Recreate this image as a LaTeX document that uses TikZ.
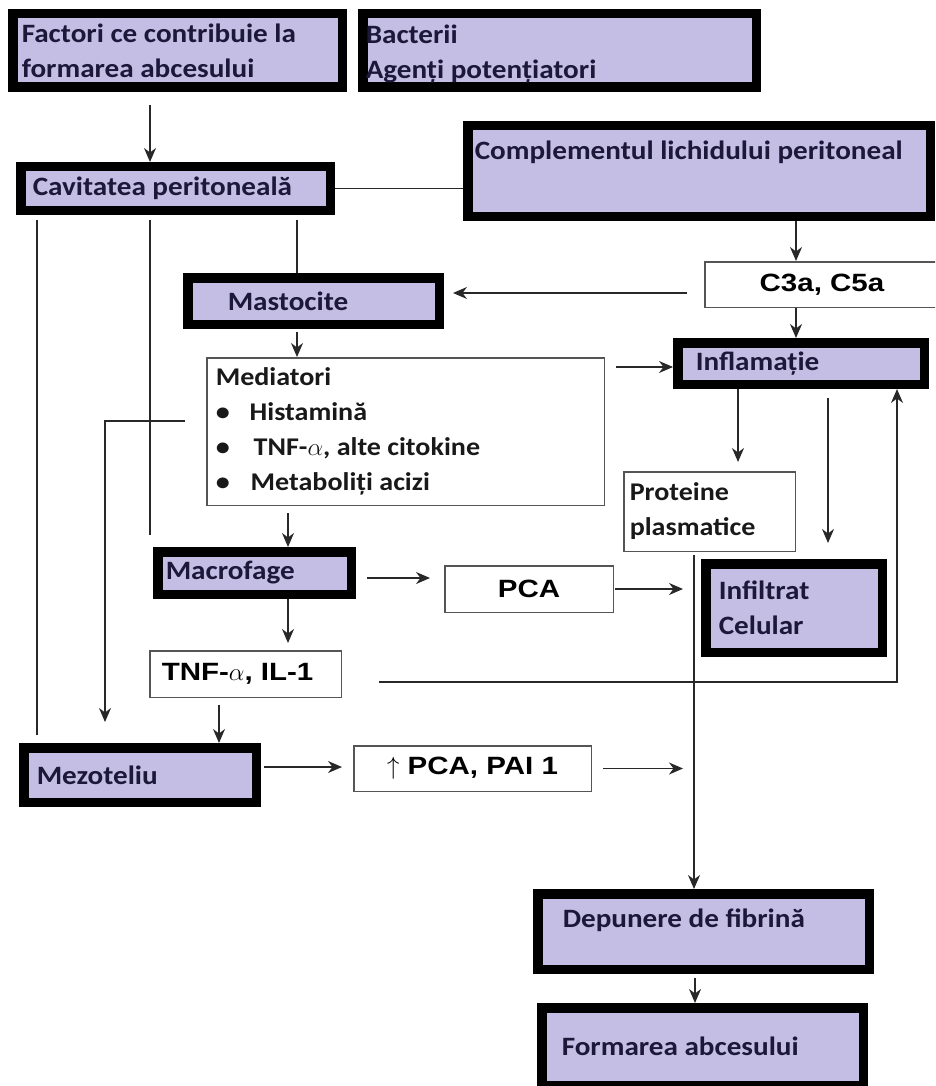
\documentclass[tikz,border=0pt]{standalone}
\usepackage{fontspec}
\setmainfont[FakeStretch=1.1]{Carlito}
\newfontfamily\arialfont[FakeStretch=1.18]{Liberation Sans}
\usepackage{tikz}
\usetikzlibrary{arrows.meta}
\definecolor{lavender}{RGB}{196,190,228}
\definecolor{navy}{RGB}{28,24,58}
\definecolor{boxgray}{RGB}{85,85,85}
\definecolor{linegray}{RGB}{40,40,40}
\tikzstyle{purplebox} = [rectangle, draw=black, line width=9.5pt, fill=lavender, text=navy, font=\fontsize{26.5}{35}\selectfont\bfseries, align=flush left, inner ysep=0pt]
\tikzstyle{whitebox}  = [rectangle, draw=boxgray, line width=1.5pt, fill=white, inner ysep=0pt]
\tikzstyle{calibri}   = [font=\fontsize{25.5}{35}\selectfont\bfseries, text=black!90, align=flush left]
\tikzstyle{arial}     = [font=\arialfont\fontsize{25}{30}\selectfont\bfseries, text=black]
\tikzstyle{arrow}     = [line width=1.6pt, draw=linegray, -{Stealth[length=14pt,width=12pt,inset=4.5pt]}]
\tikzstyle{link}      = [line width=1.6pt, draw=linegray]

\begin{document}
\begin{tikzpicture}[x=1pt,y=-1pt]
        \clip (0,0) rectangle (935,1086);
        \fill[white] (0,0) rectangle (935,1086);

        \node[purplebox, inner xsep=9pt, text width=311.5pt, minimum height=73.5pt] (factori) at (177.5,50.5) {Factori ce contribuie la\\formarea abcesului};
        \node[purplebox, inner xsep=3pt, text width=387.5pt, minimum height=73.5pt, text depth=32pt] (bacterii) at (559.5,50.5) {Bacterii\\Agenți potențiatori};
        \node[purplebox, inner xsep=12pt, text width=285.5pt, minimum height=43.5pt] (cavitatea) at (175.5,188.5) {Cavitatea peritoneală};
        \node[purplebox, inner xsep=7pt, text width=448.5pt, minimum height=90.5pt, text depth=41pt] (complement) at (699,171) {Complementul lichidului peritoneal};
        \node[whitebox, arial, minimum width=234.5pt, minimum height=45.5pt] (c3a) at (822,284.5) {C3a, C5a};
        \node[purplebox, inner xsep=40pt, text width=171.5pt, minimum height=46.5pt] (mastocite) at (313.5,301) {Mastocite};
        \node[whitebox, calibri, inner xsep=9pt, text width=379.5pt, minimum height=147.5pt] (mediatori) at (405.5,431.5) {Mediatori\\
            \textbullet\hspace{20pt}Histamină\\
            \textbullet\hspace{24pt}TNF-$\alpha$, alte citokine\\
            \textbullet\hspace{21pt}Metaboliți acizi};
        \node[purplebox, inner xsep=18pt, text width=210.5pt, minimum height=41.5pt] (inflamatie) at (801,363.5) {Inflamație};
        \node[whitebox, calibri, inner xsep=6pt, text width=159.5pt, minimum height=79.5pt] (proteine) at (709.5,511.5) {Proteine\\plasmatice};
        \node[purplebox, inner xsep=13pt, text width=150.5pt, minimum height=88.5pt] (infiltrat) at (794,608) {Infiltrat\\Celular};
        \node[purplebox, inner xsep=8pt, text width=177.5pt, minimum height=42.5pt] (macrofage) at (254.5,573) {Macrofage};
        \node[whitebox, arial, minimum width=168.5pt, minimum height=46.5pt] (pca) at (529,589) {PCA};
        \node[whitebox, arial, align=flush left, inner xsep=12pt, text width=167.5pt, minimum height=46.5pt] (tnf) at (245.5,674) {TNF-$\alpha$, IL-1};
        \node[purplebox, inner xsep=13pt, text width=206.5pt, minimum height=54.5pt] (mezoteliu) at (140,775) {Mezoteliu};
        \node[whitebox, arial, minimum width=237.5pt, minimum height=45.5pt] (pcapai) at (472.5,768.5) {$\uparrow$ PCA, PAI 1};
        \node[purplebox, inner xsep=25pt, text width=281.5pt, minimum height=75.5pt, text depth=26pt] (depunere) at (703.5,931.5) {Depunere de fibrină};
        \node[purplebox, inner xsep=20pt, text width=281.5pt, minimum height=77.5pt] (formarea) at (702.5,1046.5) {Formarea abcesului};

        \coordinate (fib) at ([xshift=-15.5pt,yshift=-3pt]proteine.south);

        \draw[arrow] ([xshift=-27.5pt,yshift=-13pt]factori.south) -- ([xshift=-25.5pt]cavitatea.north);
        \draw[link] (cavitatea.east) -- (cavitatea.east -| complement.west);
        \draw[link] ([xshift=-138.5pt,yshift=-5pt]cavitatea.south) -- ([xshift=-103pt,yshift=8pt]mezoteliu.north);
        \draw[link] ([xshift=-25.5pt,yshift=-5pt]cavitatea.south) -- ([xshift=-104.5pt,yshift=12pt]macrofage.north);
        \draw[link] ([xshift=121.5pt,yshift=-5pt]cavitatea.south) -- ([xshift=-16.5pt]mastocite.north);
        \draw[arrow] ([xshift=97pt]complement.south) -- ([xshift=-26pt]c3a.north);
        \draw[arrow] ([xshift=-17pt,yshift=-8.5pt]c3a.west) -- ([xshift=9pt,yshift=8pt]mastocite.east);
        \draw[arrow] ([xshift=-26pt]c3a.south) -- ([xshift=-5pt]inflamatie.north);
        \draw[arrow] ([xshift=-16.5pt,yshift=-3pt]mastocite.south) -- ([xshift=-108.5pt]mediatori.north);
        \draw[arrow] ([xshift=11pt,yshift=64.5pt]mediatori.east) -- ([yshift=-3.5pt]inflamatie.west);
        \draw[arrow] ([xshift=-21pt,yshift=10.5pt]mediatori.west) -| ([xshift=-35pt,yshift=21pt]mezoteliu.north);
        \draw[arrow] ([xshift=-117.5pt,yshift=-7pt]mediatori.south) -- ([xshift=33.5pt]macrofage.north);
        \draw[arrow] ([xshift=-63pt]inflamatie.south) -- ([xshift=28.5pt,yshift=9pt]proteine.north);
        \draw[arrow] ([xshift=27pt,yshift=-9pt]inflamatie.south) -- ([xshift=34pt,yshift=16pt]infiltrat.north);
        \draw[arrow] ([xshift=11pt,yshift=-5pt]macrofage.east) -- ([xshift=-14pt,yshift=11pt]pca.west);
        \draw[arrow] ([xshift=33.5pt]macrofage.south) -- ([xshift=42.5pt,yshift=7pt]tnf.north);
        \draw[arrow, shorten <=1pt, shorten >=11pt] (pca.east) -- (pca.east -| fib);
        \draw[arrow] ([xshift=-26.5pt,yshift=-7pt]tnf.south) -- ([xshift=79pt]mezoteliu.north);
        \draw[arrow] ([xshift=37pt,yshift=-8pt]tnf.east) -| ([xshift=96pt]inflamatie.south);
        \draw[arrow] ([xshift=3pt,yshift=8pt]mezoteliu.east) -- ([xshift=-11pt,yshift=1.5pt]pcapai.west);
        \draw[arrow, shorten <=11pt, shorten >=11pt] (pcapai.east) -- (pcapai.east -| fib);
        \draw[arrow] (fib) -- (fib |- depunere.north);
        \draw[arrow] ([xshift=-8.5pt,yshift=-4pt]depunere.south) -- ([xshift=-7.5pt]formarea.north);
\end{tikzpicture}
\end{document}
